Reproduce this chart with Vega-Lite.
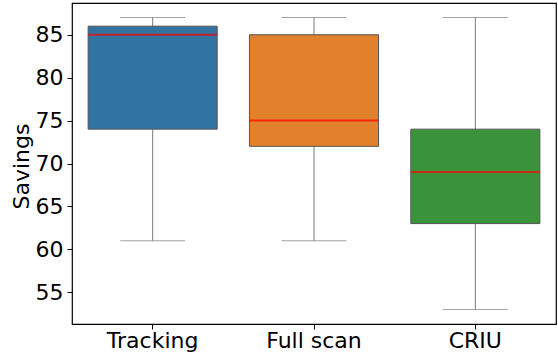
{
  "$schema": "https://vega.github.io/schema/vega-lite/v6.json",
  "autosize": "none",
  "width": 484,
  "height": 321,
  "padding": {"left": 72, "top": 3, "right": 2, "bottom": 28},
  "config": {
    "font": "DejaVu Sans",
    "view": {"stroke": "#000000", "strokeWidth": 1.2},
    "axisY": {"titleFontSize": 22, "titleFontWeight": "normal", "titleColor": "#000000", "titleFont": "DejaVu Sans", "labelFontSize": 22, "labelColor": "#000000"},
    "axisX": {"labelFontSize": 22, "labelColor": "#000000"}
  },
  "data": {
    "values": [
      {"method": "Tracking", "min": 61, "q1": 74, "median": 85, "q3": 86, "max": 87},
      {"method": "Full scan", "min": 61, "q1": 72, "median": 75, "q3": 85, "max": 87},
      {"method": "CRIU", "min": 53, "q1": 63, "median": 69, "q3": 74, "max": 87}
    ]
  },
  "encoding": {
    "x": {
      "field": "method", "type": "nominal", "sort": ["Tracking", "Full scan", "CRIU"],
      "scale": {"paddingInner": 0, "paddingOuter": 0},
      "axis": {"title": null, "labelAngle": 0, "labelPadding": 1, "labelFontSize": 22, "labelColor": "#000000", "labelFont": "DejaVu Sans", "grid": false, "domain": false, "tickColor": "#000000", "tickSize": 5}
    }
  },
  "layer": [
    {
      "mark": {"type": "rule", "color": "#7a7a7a", "strokeWidth": 1},
      "encoding": {
        "y": {"field": "min", "type": "quantitative", "title": "Savings", "scale": {"domain": [51.3, 88.7], "nice": false, "zero": false},
          "axis": {"title": "Savings", "values": [55, 60, 65, 70, 75, 80, 85], "titleX": -39, "titleY": 163, "titleAnchor": "middle", "labelPadding": 4,
            "labelFontSize": 22, "titleFontSize": 22, "titleFontWeight": "normal", "labelColor": "#000000", "titleColor": "#000000",
            "labelFont": "DejaVu Sans", "titleFont": "DejaVu Sans", "grid": false, "domain": false, "tickColor": "#000000", "tickSize": 5}},
        "y2": {"field": "q1"}
      }
    },
    {
      "mark": {"type": "rule", "color": "#7a7a7a", "strokeWidth": 1},
      "encoding": {"y": {"field": "q3", "type": "quantitative", "title": "Savings"}, "y2": {"field": "max"}}
    },
    {
      "mark": {"type": "tick", "color": "#7a7a7a", "size": 65, "thickness": 1, "orient": "horizontal"},
      "encoding": {"y": {"field": "min", "type": "quantitative", "title": "Savings"}}
    },
    {
      "mark": {"type": "tick", "color": "#7a7a7a", "size": 65, "thickness": 1, "orient": "horizontal"},
      "encoding": {"y": {"field": "max", "type": "quantitative", "title": "Savings"}}
    },
    {
      "mark": {"type": "bar", "width": {"band": 0.8}, "stroke": "#555555", "strokeWidth": 1},
      "encoding": {
        "y": {"field": "q1", "type": "quantitative", "title": "Savings"},
        "y2": {"field": "q3"},
        "color": {"field": "method", "type": "nominal", "sort": ["Tracking", "Full scan", "CRIU"],
          "scale": {"domain": ["Tracking", "Full scan", "CRIU"], "range": ["#3274a1", "#e1812c", "#3a923a"]}, "legend": null}
      }
    },
    {
      "mark": {"type": "tick", "color": "#ff0000", "size": 129, "thickness": 2, "orient": "horizontal"},
      "encoding": {"y": {"field": "median", "type": "quantitative", "title": "Savings"}}
    }
  ]
}
